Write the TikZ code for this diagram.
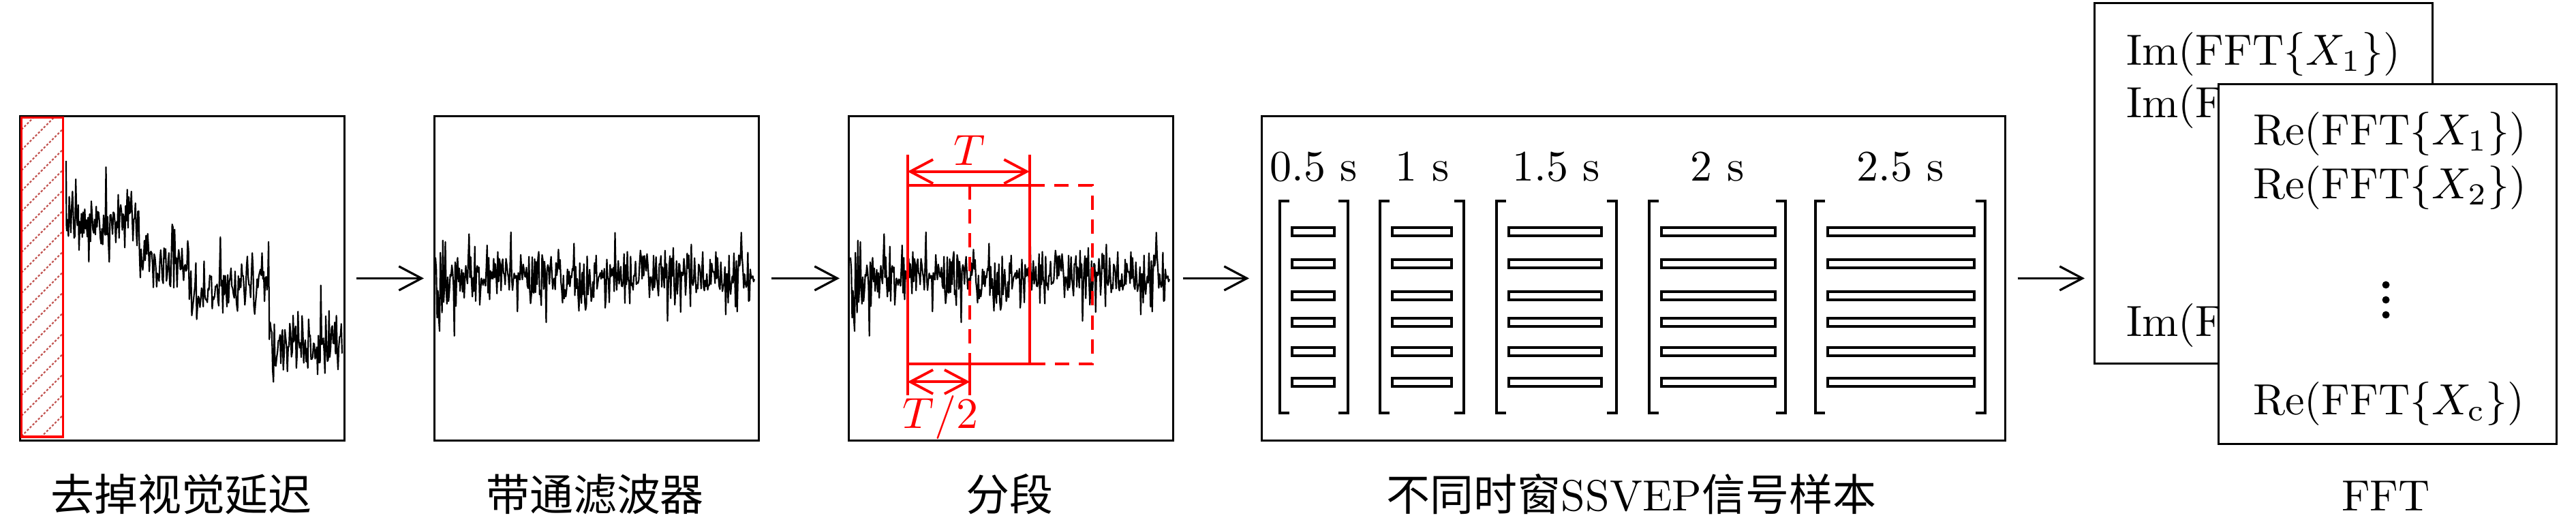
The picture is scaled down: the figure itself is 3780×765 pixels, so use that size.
\documentclass[tikz,border=0pt]{standalone}
\usepackage{fontspec}
\newfontfamily\cjk{Noto Sans CJK SC}
\usetikzlibrary{arrows.meta}
\definecolor{hatchred}{RGB}{192,80,77}
\begin{document}
\begin{tikzpicture}[x=0.0055cm, y=-0.0055cm,
  font=\normalsize,
  panel/.style={draw, line width=0.5pt, inner sep=0pt, minimum width=2.6125cm, minimum height=2.6125cm, anchor=north west},
  txt/.style={inner sep=0pt, anchor=base},
  ltxt/.style={inner sep=0pt, anchor=base west},
  sig/.style={line width=0.34pt, line join=round},
  flow/.style={line width=0.5pt, arrows={-Straight Barb[length=5.2pt,width=5.5pt]}},
  seg/.style={red, line width=0.6pt},
  dimline/.style={red, line width=0.6pt, arrows={Straight Barb[length=5.2pt,width=5.5pt]-Straight Barb[length=5.2pt,width=5.5pt]}},
  bar/.style={line width=0.5pt},
]
\useasboundingbox (0,0) rectangle (3780,765);

% ---------- panels ----------
\node[panel] (b1) at (28,169) {};
\node[panel] (b2) at (636,169) {};
\node[panel] (b3) at (1244,169) {};
\node[panel, minimum width=5.9895cm] (b4) at (1850,169) {};

% ---------- signal traces ----------
\pgfmathsetseed{7}
\draw[sig] (97,236) -- (97.5,330) -- plot[domain=98:502, samples=338]
  (\x, {322 + 65*(\x>204) + (\x>277)*(50 - 25*min(\x-277,118)/118) + 95*(\x>395)
        + 19*(rand+rand+rand) + 80*rand*rand*rand});

\pgfmathsetseed{11}
\draw[sig, shift={(639,405)}] plot[domain=0:468, samples=390]
  (\x, {(1+1.2*max(0,1-\x/30))*(17*(rand+rand+rand) + 90*rand*rand*rand)});

\pgfmathsetseed{11}
\draw[sig, shift={(1248,405)}] plot[domain=0:468, samples=390]
  (\x, {(1+1.2*max(0,1-\x/30))*(17*(rand+rand+rand) + 90*rand*rand*rand)});

% ---------- removed delay (box 1) ----------
\begin{scope}
  \clip (31.5,172.5) rectangle (92.5,641);
  \foreach \k in {-1,...,17}
    \draw[hatchred, line width=0.33pt, dash pattern=on 0.5pt off 0.4pt] (31.5,190+30*\k) -- ++(61,-61);
\end{scope}
\draw[red, line width=0.55pt] (31.5,172.5) rectangle (92.5,641);

% ---------- segmentation (box 3) ----------
\coordinate (wA) at (1331.7,271.7);
\coordinate (wB) at (1510.7,534.3);
\coordinate (wC) at (1423.3,271.7);
\coordinate (wD) at (1602.7,534.3);
\draw[seg, dash pattern=on 3.3pt off 2.2pt] (wC) rectangle (wD);
\draw[seg] (wA) rectangle (wB);
\draw[seg] (wA) -- ++(0,-45);
\draw[seg] (wA -| wB) -- ++(0,-45);
\draw[seg] (wA |- wB) -- ++(0,46);
\draw[seg] (wC |- wB) -- ++(0,46);
\path (wA) ++(0,-20) coordinate (tL);
\path (wA |- wB) ++(0,26) coordinate (hL);
\draw[dimline] (tL) -- (tL -| wB);
\draw[dimline] (hL) -- (hL -| wC);
\node[txt, red] (tT) at (1423,242) {$T$};
\node[txt, red] (tT2) at (1380,628) {$T/2$};

% ---------- samples (box 4) ----------
\foreach \xl/\xr/\bl/\br/\lx/\lab [count=\n] in
  {1878/1978/1896/1958/1928/{0.5 s},
   2025/2148/2043/2130/2087/{1 s},
   2196/2372/2214/2350/2284/{1.5 s},
   2420/2620/2438/2605/2520/{2 s},
   2664/2913/2682/2897/2789/{2.5 s}}{
  \draw[bar] (\xl+14,295) -- (\xl,295) -- (\xl,606) -- (\xl+14,606);
  \draw[bar] (\xr-14,295) -- (\xr,295) -- (\xr,606) -- (\xr-14,606);
  \foreach \yy in {340,387,434,473,516,561}
    \draw[bar] (\bl,\yy-6) rectangle (\br,\yy+6);
  \node[txt] (w\n) at (\lx,265) {\lab};
}

% ---------- FFT panels ----------
\node[panel, minimum width=2.7225cm, minimum height=2.904cm] (fb) at (3072,3) {};
\node[ltxt] (im1) at (3119,95) {$\mathrm{Im}(\mathrm{FFT}\{X_1\})$};
\node[ltxt] (im2) at (3119,172) {$\mathrm{Im}(\mathrm{FFT}\{X_2\})$};
\node[ltxt] (imc) at (3119,493) {$\mathrm{Im}(\mathrm{FFT}\{X_\mathrm{c}\})$};

\node[panel, fill=white, minimum width=2.7225cm, minimum height=2.8985cm] (ff) at (3254,122) {};
\node[ltxt] (re1) at (3305,212) {$\mathrm{Re}(\mathrm{FFT}\{X_1\})$};
\node[ltxt] (re2) at (3305,291) {$\mathrm{Re}(\mathrm{FFT}\{X_2\})$};
\node[ltxt] (rec) at (3305,608) {$\mathrm{Re}(\mathrm{FFT}\{X_\mathrm{c}\})$};
\foreach \yy in {418,440,462}
  \fill (3501,\yy) circle[radius=0.03cm];

% ---------- connectors ----------
\coordinate (a4end) at (fb.west |- b4.east);
\draw[flow] ([xshift=0.088cm]b1.east) -- ([xshift=-0.077cm]b2.west);
\draw[flow] ([xshift=0.0935cm]b2.east) -- ([xshift=-0.066cm]b3.west);
\draw[flow] ([xshift=0.0715cm]b3.east) -- ([xshift=-0.0935cm]b4.west);
\draw[flow] ([xshift=0.0935cm]b4.east) -- ([xshift=-0.0715cm]a4end);

% ---------- captions ----------
\node[txt] (c1) at (266,749) {\cjk 去掉视觉延迟};
\node[txt] (c2) at (873,749) {\cjk 带通滤波器};
\node[txt] (c3) at (1481,749) {\cjk 分段};
\node[txt] (c4) at (2394,749) {{\cjk 不同时窗}SSVEP{\cjk 信号样本}};
\node[txt] (c5) at (3501,749) {FFT};
\end{tikzpicture}
\end{document}
